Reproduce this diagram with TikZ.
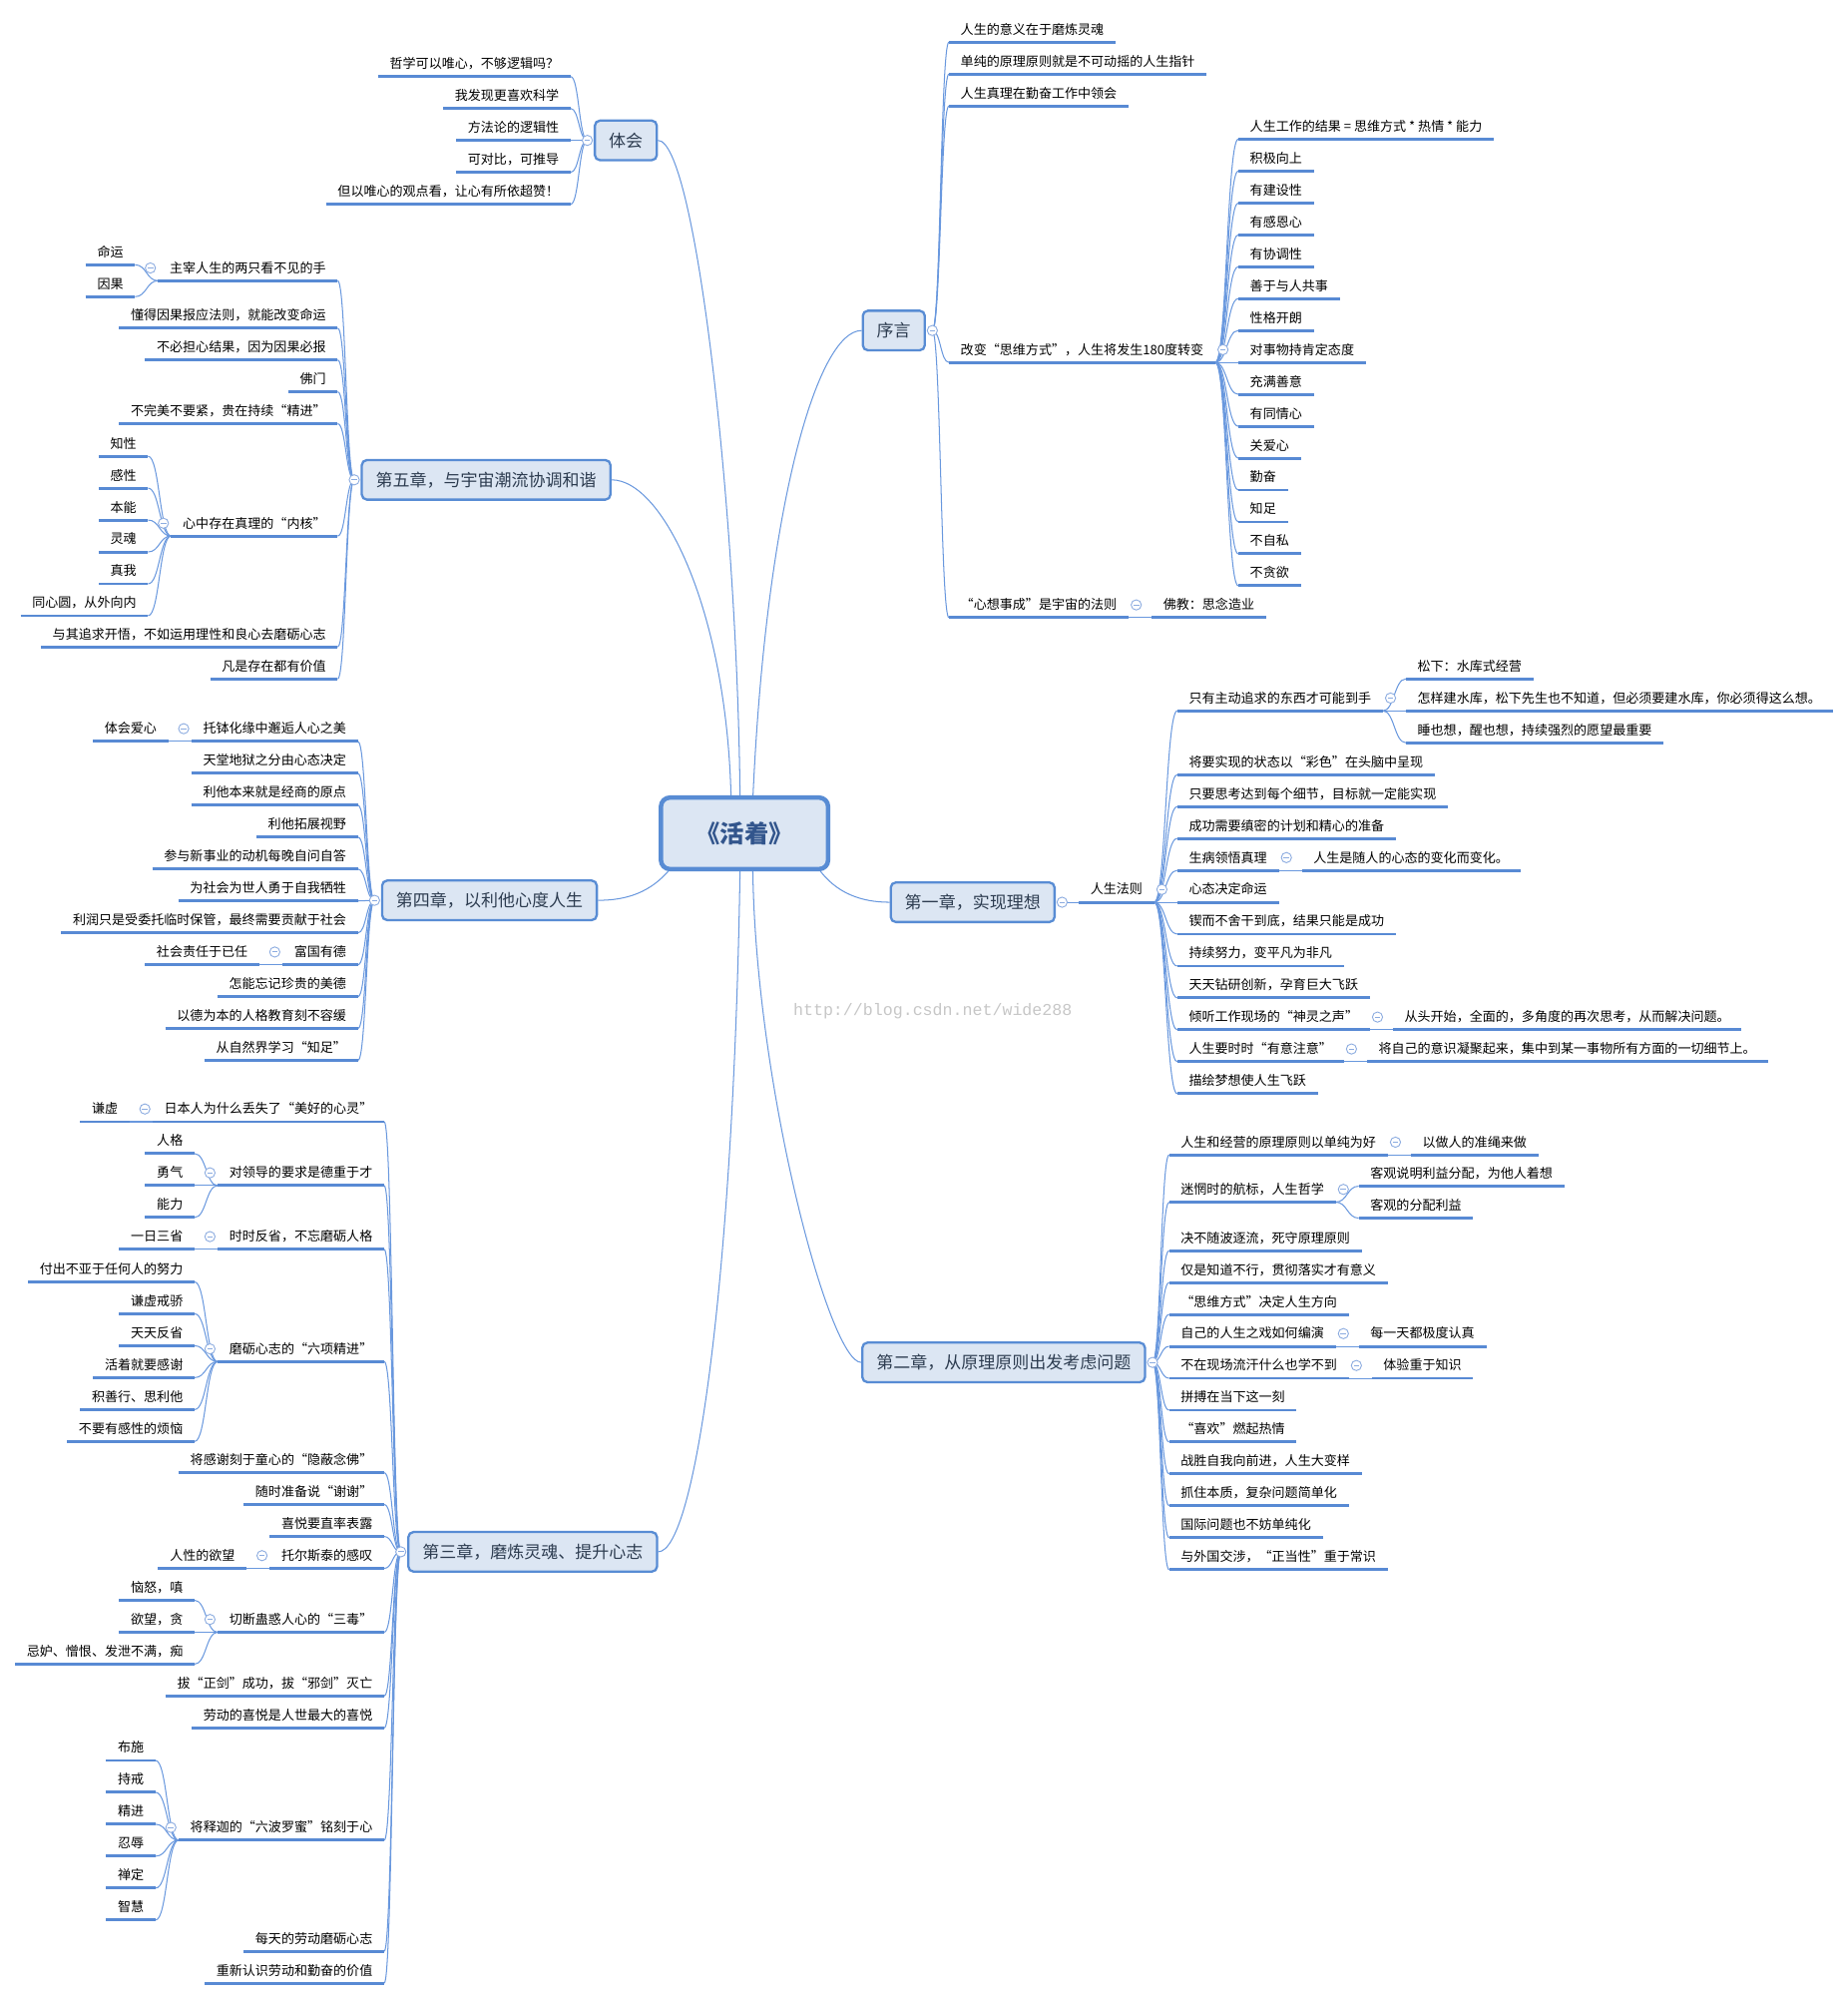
\documentclass[tikz,border=0pt]{standalone}
\usepackage{fontspec}
\newfontfamily\cjk{Noto Sans CJK SC}
\newfontfamily\wmfont{Liberation Mono}
\usetikzlibrary{calc}
\pgfdeclarelayer{bg}
\pgfsetlayers{bg,main}
\definecolor{ul}{RGB}{88,138,212}
\definecolor{cn}{RGB}{105,152,222}
\definecolor{bfill}{RGB}{220,230,243}
\definecolor{bdraw}{RGB}{88,140,212}
\definecolor{ctext}{RGB}{45,60,80}
\definecolor{mtext}{RGB}{50,85,140}
\definecolor{circ}{RGB}{140,172,224}
\tikzset{
 leaf/.style={font=\cjk\fontsize{10.2}{12}\selectfont, text height=8.6pt, text depth=1.6pt, inner xsep=9pt, inner ysep=4.5pt, text=black},
 uline/.style={draw=ul, line width=2.3pt},
 conn/.style={draw=cn, line width=0.8pt},
 chap/.style={draw=bdraw, fill=bfill, line width=1.8pt, rounded corners=4pt, font=\cjk\fontsize{13.3}{15}\selectfont, text=ctext, inner xsep=11pt, minimum height=31pt},
 mainbox/.style={draw=bdraw, fill=bfill, line width=3.5pt, rounded corners=7pt, font=\cjk\bfseries\fontsize{19}{22}\selectfont, text=mtext, minimum width=131pt, minimum height=56pt},
 fold/.style={draw=circ, fill=white, line width=0.7pt, circle, minimum size=8pt, inner sep=0pt, path picture={\draw[circ,line width=0.7pt] ([xshift=-2.2pt]path picture bounding box.center) -- ([xshift=2.2pt]path picture bounding box.center);}},
 wm/.style={font=\wmfont\fontsize{13}{15}\selectfont, text=black!22}
}
\newcommand\leafR[4]{\node[leaf,anchor=south west] (#1) at ($(#2|-0,#3)+(18,0)$) {#4};\draw[uline] (#1.south west) -- (#1.south east);}
\newcommand\leafL[4]{\node[leaf,anchor=south east] (#1) at ($(#2|-0,#3)+(-18,0)$) {#4};\draw[uline] (#1.south west) -- (#1.south east);}
\newcommand\cnx[2]{\draw[conn] let \p1=(#1), \p2=(#2) in (\p1) .. controls ({0.5*\x1+0.5*\x2},\y1) and ({0.5*\x1+0.5*\x2},\y2) .. (\p2);}
\newcommand\foldR[2]{\node[fold] (#1) at ($(#2.south east)+(6,-10)$) {};}
\newcommand\foldL[2]{\node[fold] (#1) at ($(#2.south west)+(-6,-10)$) {};}
\begin{document}
\begin{tikzpicture}[x=1pt,y=-1pt]
\begin{pgfonlayer}{bg}
\fill[white] (0,0) rectangle (1448,1568);
\end{pgfonlayer}
\useasboundingbox (0,0) rectangle (1448,1568);
% boxes
\node[mainbox] (main) at (583.5,653) {《活着》};
\node[chap] (th) at (490.5,110) {体会};
\node[chap] (xy) at (700.5,259) {序言};
\node[chap] (c5) at (381,376) {第五章，与宇宙潮流协调和谐};
\node[chap] (c4) at (383.6,705.5) {第四章，以利他心度人生};
\node[chap] (c1) at (762.3,707) {第一章，实现理想};
\node[chap] (c2) at (786.6,1067.6) {第二章，从原理原则出发考虑问题};
\node[chap] (c3) at (417.5,1216) {第三章，磨炼灵魂、提升心志};
\node[wm] (wm) at (731,792) {http://blog.csdn.net/wide288};
% 体会
\leafL{t1}{th.west}{60}{哲学可以唯心，不够逻辑吗？}
\leafL{t2}{th.west}{85}{我发现更喜欢科学}
\leafL{t3}{th.west}{110}{方法论的逻辑性}
\leafL{t4}{th.west}{135}{可对比，可推导}
\leafL{t5}{th.west}{160}{但以唯心的观点看，让心有所依超赞！}
% 序言
\leafR{q1}{xy.east}{33}{人生的意义在于磨炼灵魂}
\leafR{q2}{xy.east}{58}{单纯的原理原则就是不可动摇的人生指针}
\leafR{q3}{xy.east}{83}{人生真理在勤奋工作中领会}
\leafR{q4}{xy.east}{284}{改变“思维方式”，人生将发生180度转变}
\leafR{q5}{xy.east}{484}{“心想事成”是宇宙的法则}
\leafR{r0}{q4.south east}{109}{人生工作的结果 = 思维方式 * 热情 * 能力}
\leafR{r1}{q4.south east}{134}{积极向上}
\leafR{r2}{q4.south east}{159}{有建设性}
\leafR{r3}{q4.south east}{184}{有感恩心}
\leafR{r4}{q4.south east}{209}{有协调性}
\leafR{r5}{q4.south east}{234}{善于与人共事}
\leafR{r6}{q4.south east}{259}{性格开朗}
\leafR{r7}{q4.south east}{284}{对事物持肯定态度}
\leafR{r8}{q4.south east}{309}{充满善意}
\leafR{r9}{q4.south east}{334}{有同情心}
\leafR{r10}{q4.south east}{359}{关爱心}
\leafR{r11}{q4.south east}{384}{勤奋}
\leafR{r12}{q4.south east}{409}{知足}
\leafR{r13}{q4.south east}{434}{不自私}
\leafR{r14}{q4.south east}{459}{不贪欲}
\leafR{q5a}{q5.south east}{484}{佛教：思念造业}
% 第五章
\leafL{f1}{c5.west}{220}{主宰人生的两只看不见的手}
\leafL{f1a}{f1.south west}{207.5}{命运}
\leafL{f1b}{f1.south west}{232.5}{因果}
\leafL{f2}{c5.west}{257}{懂得因果报应法则，就能改变命运}
\leafL{f3}{c5.west}{282}{不必担心结果，因为因果必报}
\leafL{f4}{c5.west}{307}{佛门}
\leafL{f5}{c5.west}{332}{不完美不要紧，贵在持续“精进”}
\leafL{f6}{c5.west}{420}{心中存在真理的“内核”}
\leafL{f6a}{f6.south west}{357.5}{知性}
\leafL{f6b}{f6.south west}{382.5}{感性}
\leafL{f6c}{f6.south west}{407.5}{本能}
\leafL{f6d}{f6.south west}{432.5}{灵魂}
\leafL{f6e}{f6.south west}{457.5}{真我}
\leafL{f6f}{f6.south west}{482.5}{同心圆，从外向内}
\leafL{f7}{c5.west}{507}{与其追求开悟，不如运用理性和良心去磨砺心志}
\leafL{f8}{c5.west}{532}{凡是存在都有价值}
% 第四章
\leafL{g1}{c4.west}{581}{托钵化缘中邂逅人心之美}
\leafL{g1a}{g1.south west}{581}{体会爱心}
\leafL{g2}{c4.west}{606}{天堂地狱之分由心态决定}
\leafL{g3}{c4.west}{631}{利他本来就是经商的原点}
\leafL{g4}{c4.west}{656}{利他拓展视野}
\leafL{g5}{c4.west}{681}{参与新事业的动机每晚自问自答}
\leafL{g6}{c4.west}{706}{为社会为世人勇于自我牺牲}
\leafL{g7}{c4.west}{731}{利润只是受委托临时保管，最终需要贡献于社会}
\leafL{g8}{c4.west}{756}{富国有德}
\leafL{g8a}{g8.south west}{756}{社会责任于已任}
\leafL{g9}{c4.west}{781}{怎能忘记珍贵的美德}
\leafL{g10}{c4.west}{806}{以德为本的人格教育刻不容缓}
\leafL{g11}{c4.west}{831}{从自然界学习“知足”}
% 第一章
\leafR{rf}{c1.east}{707}{人生法则}
\leafR{a1}{rf.south east}{557}{只有主动追求的东西才可能到手}
\leafR{a2}{rf.south east}{607}{将要实现的状态以“彩色”在头脑中呈现}
\leafR{a3}{rf.south east}{632}{只要思考达到每个细节，目标就一定能实现}
\leafR{a4}{rf.south east}{657}{成功需要缜密的计划和精心的准备}
\leafR{a5}{rf.south east}{682}{生病领悟真理}
\leafR{a6}{rf.south east}{707}{心态决定命运}
\leafR{a7}{rf.south east}{732}{锲而不舍干到底，结果只能是成功}
\leafR{a8}{rf.south east}{757}{持续努力，变平凡为非凡}
\leafR{a9}{rf.south east}{782}{天天钻研创新，孕育巨大飞跃}
\leafR{a10}{rf.south east}{807}{倾听工作现场的“神灵之声”}
\leafR{a11}{rf.south east}{832}{人生要时时“有意注意”}
\leafR{a12}{rf.south east}{857}{描绘梦想使人生飞跃}
\leafR{a1a}{a1.south east}{532}{松下：水库式经营}
\leafR{a1b}{a1.south east}{557}{怎样建水库，松下先生也不知道，但必须要建水库，你必须得这么想。}
\leafR{a1c}{a1.south east}{582}{睡也想，醒也想，持续强烈的愿望最重要}
\leafR{a5a}{a5.south east}{682}{人生是随人的心态的变化而变化。}
\leafR{a10a}{a10.south east}{807}{从头开始，全面的，多角度的再次思考，从而解决问题。}
\leafR{a11a}{a11.south east}{832}{将自己的意识凝聚起来，集中到某一事物所有方面的一切细节上。}
% 第二章
\leafR{b1}{c2.east}{905}{人生和经营的原理原则以单纯为好}
\leafR{b2}{c2.east}{942}{迷惘时的航标，人生哲学}
\leafR{b3}{c2.east}{980}{决不随波逐流，死守原理原则}
\leafR{b4}{c2.east}{1005}{仅是知道不行，贯彻落实才有意义}
\leafR{b5}{c2.east}{1030}{“思维方式”决定人生方向}
\leafR{b6}{c2.east}{1055}{自己的人生之戏如何编演}
\leafR{b7}{c2.east}{1080}{不在现场流汗什么也学不到}
\leafR{b8}{c2.east}{1105}{拼搏在当下这一刻}
\leafR{b9}{c2.east}{1130}{“喜欢”燃起热情}
\leafR{b10}{c2.east}{1155}{战胜自我向前进，人生大变样}
\leafR{b11}{c2.east}{1180}{抓住本质，复杂问题简单化}
\leafR{b12}{c2.east}{1205}{国际问题也不妨单纯化}
\leafR{b13}{c2.east}{1230}{与外国交涉，“正当性”重于常识}
\leafR{b1a}{b1.south east}{905}{以做人的准绳来做}
\leafR{b2a}{b2.south east}{929.5}{客观说明利益分配，为他人着想}
\leafR{b2b}{b2.south east}{954.5}{客观的分配利益}
\leafR{b6a}{b6.south east}{1055}{每一天都极度认真}
\leafR{b7a}{b7.south east}{1080}{体验重于知识}
% 第三章
\leafL{h1}{c3.west}{879}{日本人为什么丢失了“美好的心灵”}
\leafL{h2}{c3.west}{929}{对领导的要求是德重于才}
\leafL{h3}{c3.west}{979}{时时反省，不忘磨砺人格}
\leafL{h4}{c3.west}{1067}{磨砺心志的“六项精进”}
\leafL{h5}{c3.west}{1154}{将感谢刻于童心的“隐蔽念佛”}
\leafL{h6}{c3.west}{1179}{随时准备说“谢谢”}
\leafL{h7}{c3.west}{1204}{喜悦要直率表露}
\leafL{h8}{c3.west}{1229}{托尔斯泰的感叹}
\leafL{h9}{c3.west}{1279}{切断蛊惑人心的“三毒”}
\leafL{h10}{c3.west}{1329}{拔“正剑”成功，拔“邪剑”灭亡}
\leafL{h11}{c3.west}{1354}{劳动的喜悦是人世最大的喜悦}
\leafL{h12}{c3.west}{1442}{将释迦的“六波罗蜜”铭刻于心}
\leafL{h13}{c3.west}{1529}{每天的劳动磨砺心志}
\leafL{h14}{c3.west}{1554}{重新认识劳动和勤奋的价值}
\leafL{h1a}{h1.south west}{879}{谦虚}
\leafL{h2a}{h2.south west}{904}{人格}
\leafL{h2b}{h2.south west}{929}{勇气}
\leafL{h2c}{h2.south west}{954}{能力}
\leafL{h3a}{h3.south west}{979}{一日三省}
\leafL{h4a}{h4.south west}{1004.5}{付出不亚于任何人的努力}
\leafL{h4b}{h4.south west}{1029.5}{谦虚戒骄}
\leafL{h4c}{h4.south west}{1054.5}{天天反省}
\leafL{h4d}{h4.south west}{1079.5}{活着就要感谢}
\leafL{h4e}{h4.south west}{1104.5}{积善行、思利他}
\leafL{h4f}{h4.south west}{1129.5}{不要有感性的烦恼}
\leafL{h8a}{h8.south west}{1229}{人性的欲望}
\leafL{h9a}{h9.south west}{1254}{恼怒，嗔}
\leafL{h9b}{h9.south west}{1279}{欲望，贪}
\leafL{h9c}{h9.south west}{1304}{忌妒、憎恨、发泄不满，痴}
\leafL{h12a}{h12.south west}{1379.5}{布施}
\leafL{h12b}{h12.south west}{1404.5}{持戒}
\leafL{h12c}{h12.south west}{1429.5}{精进}
\leafL{h12d}{h12.south west}{1454.5}{忍辱}
\leafL{h12e}{h12.south west}{1479.5}{禅定}
\leafL{h12f}{h12.south west}{1504.5}{智慧}
% fold marks
\node[fold] (fth) at ($(th.west)+(-5,0)$) {};
\node[fold] (fxy) at ($(xy.east)+(5,0)$) {};
\node[fold] (fc5) at ($(c5.west)+(-5,0)$) {};
\node[fold] (fc4) at ($(c4.west)+(-5,0)$) {};
\node[fold] (fc1) at ($(c1.east)+(5,0)$) {};
\node[fold] (fc2) at ($(c2.east)+(5,0)$) {};
\node[fold] (fc3) at ($(c3.west)+(-5,0)$) {};
\foldR{fq4}{q4}\foldR{fq5}{q5}\foldR{frf}{rf}\foldR{fa1}{a1}\foldR{fa5}{a5}\foldR{fa10}{a10}\foldR{fa11}{a11}
\foldR{fb1}{b1}\foldR{fb2}{b2}\foldR{fb6}{b6}\foldR{fb7}{b7}
\foldL{ff1}{f1}\foldL{ff6}{f6}\foldL{fg1}{g1}\foldL{fg8}{g8}
\foldL{fh1}{h1}\foldL{fh2}{h2}\foldL{fh3}{h3}\foldL{fh4}{h4}\foldL{fh8}{h8}\foldL{fh9}{h9}\foldL{fh12}{h12}
% connectors
\begin{pgfonlayer}{bg}
\coordinate (m1) at (573,627);
\coordinate (m2) at (580,627);
\coordinate (m3) at (590,627);
\coordinate (m4) at (526,680);
\coordinate (m5) at (641,680);
\coordinate (m6) at (580,681);
\coordinate (m7) at (590,681);
\draw[conn] (m2) .. controls (578,400) and (545,110) .. (th.east);
\draw[conn] (m1) .. controls (570,480) and (520,376) .. (c5.east);
\draw[conn] (m3) .. controls (600,400) and (640,259) .. (xy.west);
\draw[conn] (m4) .. controls (510,700) and (490,705.5) .. (c4.east);
\draw[conn] (m5) .. controls (655,700) and (675,707) .. (c1.west);
\draw[conn] (m6) .. controls (575,1000) and (545,1216) .. (c3.east);
\draw[conn] (m7) .. controls (592,850) and (650,1068) .. (c2.west);
\foreach \k in {t1,t2,t3,t4,t5} {\cnx{fth}{\k.south east}}
\foreach \k in {q1,q2,q3,q4,q5} {\cnx{fxy}{\k.south west}}
\foreach \k in {0,...,14} {\cnx{q4.south east}{r\k.south west}}
\cnx{q5.south east}{q5a.south west}
\foreach \k in {f1,f2,f3,f4,f5,f6,f7,f8} {\cnx{fc5}{\k.south east}}
\foreach \k in {f1a,f1b} {\cnx{f1.south west}{\k.south east}}
\foreach \k in {f6a,f6b,f6c,f6d,f6e,f6f} {\cnx{f6.south west}{\k.south east}}
\foreach \k in {g1,g2,g3,g4,g5,g6,g7,g8,g9,g10,g11} {\cnx{fc4}{\k.south east}}
\cnx{g1.south west}{g1a.south east}
\cnx{g8.south west}{g8a.south east}
\cnx{fc1}{rf.south west}
\foreach \k in {a1,a2,a3,a4,a5,a6,a7,a8,a9,a10,a11,a12} {\cnx{rf.south east}{\k.south west}}
\foreach \k in {a1a,a1b,a1c} {\cnx{a1.south east}{\k.south west}}
\cnx{a5.south east}{a5a.south west}
\cnx{a10.south east}{a10a.south west}
\cnx{a11.south east}{a11a.south west}
\foreach \k in {b1,b2,b3,b4,b5,b6,b7,b8,b9,b10,b11,b12,b13} {\cnx{fc2}{\k.south west}}
\cnx{b1.south east}{b1a.south west}
\foreach \k in {b2a,b2b} {\cnx{b2.south east}{\k.south west}}
\cnx{b6.south east}{b6a.south west}
\cnx{b7.south east}{b7a.south west}
\foreach \k in {h1,h2,h3,h4,h5,h6,h7,h8,h9,h10,h11,h12,h13,h14} {\cnx{fc3}{\k.south east}}
\cnx{h1.south west}{h1a.south east}
\foreach \k in {h2a,h2b,h2c} {\cnx{h2.south west}{\k.south east}}
\cnx{h3.south west}{h3a.south east}
\foreach \k in {h4a,h4b,h4c,h4d,h4e,h4f} {\cnx{h4.south west}{\k.south east}}
\cnx{h8.south west}{h8a.south east}
\foreach \k in {h9a,h9b,h9c} {\cnx{h9.south west}{\k.south east}}
\foreach \k in {h12a,h12b,h12c,h12d,h12e,h12f} {\cnx{h12.south west}{\k.south east}}
\end{pgfonlayer}
\end{tikzpicture}
\end{document}
